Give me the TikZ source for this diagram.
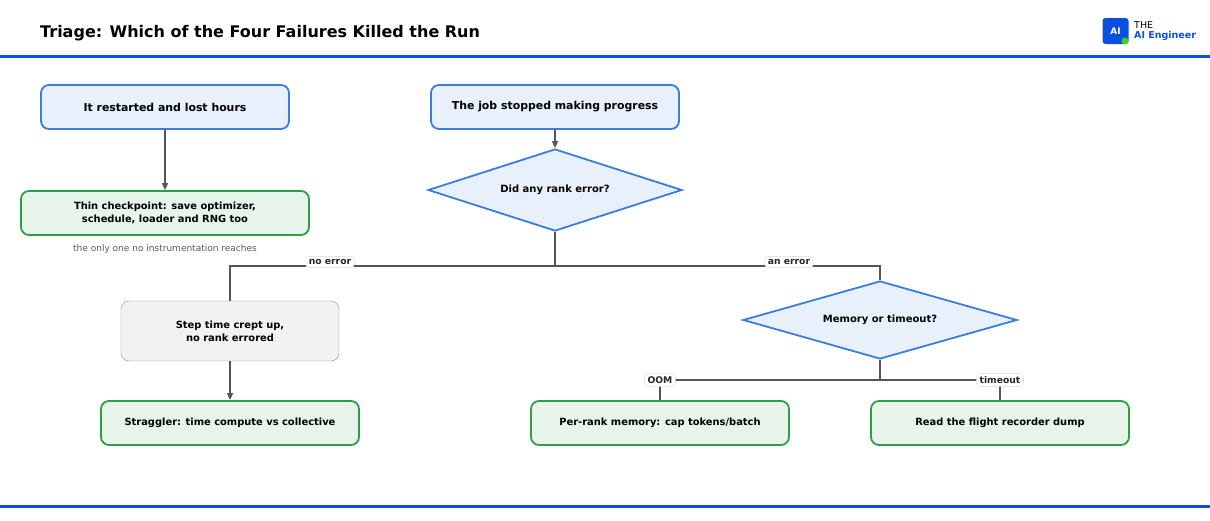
\documentclass[tikz,border=0pt]{standalone}
\usepackage{fontspec}
\setmainfont{DejaVu Sans}
\usetikzlibrary{shapes.geometric,arrows.meta}
\definecolor{brand}{HTML}{0A4FE0}
\definecolor{qfill}{HTML}{E8F0FC}
\definecolor{qline}{HTML}{3B7DDD}
\definecolor{afill}{HTML}{E6F4EA}
\definecolor{aline}{HTML}{2E9E48}
\definecolor{wire}{HTML}{555555}
\tikzset{
  startbox/.style={draw=qline, fill=qfill, line width=1.8pt, rounded corners=8pt, minimum width=248pt, minimum height=44pt, font=\bfseries\fontsize{10.9}{13}\selectfont},
  fixbox/.style={draw=aline, fill=afill, line width=1.8pt, rounded corners=8pt, minimum width=258pt, minimum height=44pt, align=center, font=\bfseries\fontsize{9.9}{13}\selectfont},
  checkbox/.style={draw=qline, fill=qfill, line width=1.8pt, diamond, aspect=3.1, inner sep=0pt, font=\bfseries\fontsize{10}{12}\selectfont},
  symptombox/.style={draw=black!45, fill=black!5, rounded corners=8pt, minimum width=218pt, minimum height=60pt, align=center, font=\bfseries\fontsize{9.9}{13}\selectfont},
  tag/.style={fill=white, draw=black!15, rounded corners=3pt, inner sep=3pt, font=\bfseries\fontsize{9.2}{10}\selectfont, text=black!85},
  wireline/.style={draw=wire, line width=2pt},
  arrowline/.style={wireline, -{Triangle[length=7pt,width=6pt]}}
}
\begin{document}
\begin{tikzpicture}[x=1pt,y=-1pt]
\useasboundingbox (0,0) rectangle (1210,520);

% header and footer
\node[anchor=west, inner sep=0pt, font=\bfseries\fontsize{16}{18}\selectfont] (title) at (40,33) {Triage: Which of the Four Failures Killed the Run};
\draw[brand, line width=3pt] (0,56) -- (1210,56);
\draw[brand, line width=3pt] (0,506) -- (1210,506);
\node[fill=brand, rounded corners=3pt, minimum size=26pt, text=white, font=\bfseries\fontsize{9}{10}\selectfont] (logo) at (1115.5,31) {AI};
\fill[green!70!black!60!lime] (1125,41) circle (3.5pt);
\node[anchor=west, inner sep=0pt, font=\fontsize{9.5}{10}\selectfont] (the) at (1134,25) {THE};
\node[anchor=west, inner sep=0pt, text=brand, font=\bfseries\fontsize{9.5}{10}\selectfont] (brandname) at (1134,36) {AI Engineer};

% nodes
\node[startbox] (restart) at (165,107) {It restarted and lost hours};
\node[startbox] (stalled) at (555,107) {The job stopped making progress};
\node[checkbox, minimum width=254pt, minimum height=82pt] (anyerr) at (555,190) {Did any rank error?};
\node[fixbox, minimum width=288pt] (thin) at (165,213) {Thin checkpoint: save optimizer,\\schedule, loader and RNG too};
\node[text=black!65, font=\fontsize{9}{10}\selectfont] (note) at (165,249) {the only one no instrumentation reaches};
\node[symptombox] (creep) at (230,331) {Step time crept up,\\no rank errored};
\node[checkbox, minimum width=274pt, minimum height=78pt] (memtime) at (880,320) {Memory or timeout?};
\node[fixbox] (straggler) at (230,423) {Straggler: time compute vs collective};
\node[fixbox] (mem) at (660,423) {Per-rank memory: cap tokens/batch};
\node[fixbox] (flight) at (1000,423) {Read the flight recorder dump};

% connectors
\coordinate (split1) at (555,266);
\coordinate (split2) at (880,380);
\draw[arrowline] (restart) -- (thin);
\draw[arrowline] (stalled) -- (anyerr);
\draw[wireline] (anyerr) -- (split1);
\draw[wireline] (split1) -| (creep);
\draw[wireline] (split1) -| (memtime);
\draw[arrowline] (creep) -- (straggler);
\draw[wireline] (memtime) -- (split2);
\draw[wireline] (split2) -| (mem);
\draw[wireline] (split2) -| (flight);

\node[tag] (noerr) at (330,262) {no error};
\node[tag] (anerr) at (789,262) {an error};
\node[tag] (oom) at (660,380) {OOM};
\node[tag] (tout) at (1000,380) {timeout};
\end{tikzpicture}
\end{document}
